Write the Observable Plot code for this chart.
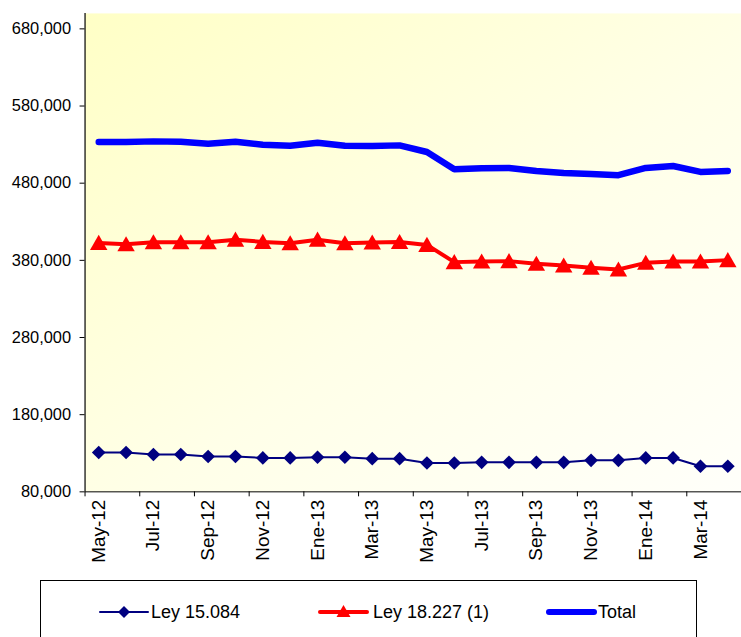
<!DOCTYPE html>
<html><head><meta charset="utf-8">
<script src="https://cdn.jsdelivr.net/npm/d3@7"></script>
<script src="https://cdn.jsdelivr.net/npm/@observablehq/plot@0.6"></script>
<style>
html,body{margin:0;padding:0;background:#fff;overflow:hidden;width:741px;height:637px;}
#chart{position:absolute;left:0;top:0;}
#legend{position:absolute;left:40px;top:580px;width:657px;height:90px;border:1px solid #000;box-sizing:border-box;font-family:"Liberation Sans",Arial,sans-serif;font-size:18px;color:#000;background:#fff;}
.sw{position:absolute;top:20px;}
.lt{position:absolute;top:20px;line-height:22px;white-space:nowrap;}
</style></head><body>
<div id="chart"></div>
<div id="legend"></div>
<script>
const months = ["May-12","Jun-12","Jul-12","Ago-12","Sep-12","Oct-12","Nov-12","Dic-12",
  "Ene-13","Feb-13","Mar-13","Abr-13","May-13","Jun-13","Jul-13","Ago-13","Sep-13","Oct-13",
  "Nov-13","Dic-13","Ene-14","Feb-14","Mar-14","Abr-14"];
const ley15084 = [131000,131000,128400,128400,125800,125800,123900,123900,124800,124800,123000,123000,
  117400,117400,118300,118300,118300,118300,120900,120900,123900,123900,113200,113200];
const ley18227 = [402600,400900,403500,403500,403500,406800,403900,402200,406800,402200,403000,403800,
  400000,377700,378400,379000,375500,373300,370300,368100,376800,378400,378400,380300];
const total = [533300,533300,534200,533800,531200,533800,529900,528600,532500,528600,528100,529000,
  520400,498100,499300,499700,495900,493300,492000,490300,499700,502300,494600,495900];
const yTicks = [80000,180000,280000,380000,480000,580000,680000];
const seriesNames = ["Ley 15.084","Ley 18.227 (1)","Total"];

const data = months.map((m, i) => ({i, m, a: ley15084[i], b: ley18227[i], t: total[i]}));
const boundaries = d3.range(-0.5, 24, 2);
const labelIdx = d3.range(0, 24, 2);
const font = "'Liberation Sans', Arial, sans-serif";

const chart = Plot.plot({
  width: 745, height: 578,
  marginLeft: 85, marginRight: 0, marginTop: 13, marginBottom: 84,
  style: {fontFamily: font, background: "transparent", color: "#000"},
  x: {type: "linear", domain: [-0.5, 23.5], label: null},
  y: {type: "linear", domain: [80000, 700000], label: null},
  marks: [
    Plot.frame({fill: "url(#plotbg)", stroke: null}),
    Plot.axisY({ticks: yTicks, tickFormat: d3.format(","), tickSize: 5, tickPadding: 9, fontSize: 16.5, stroke: "#000", label: null}),
    Plot.axisX({ticks: boundaries, tickFormat: () => "", tickSize: 5, stroke: "#000", label: null}),
    Plot.axisX({ticks: labelIdx, tickFormat: i => months[i], tickSize: 0, tickPadding: 8, tickRotate: -90, fontSize: 19, label: null}),
    Plot.ruleX([-0.5], {stroke: "#000", strokeWidth: 1.2}),
    Plot.ruleY([80000], {stroke: "#000", strokeWidth: 1}),
    Plot.line(data, {x: "i", y: "t", stroke: "#0000FF", strokeWidth: 6.5, strokeLinejoin: "round"}),
    Plot.line(data, {x: "i", y: "b", stroke: "#FF0000", strokeWidth: 4, strokeLinejoin: "round"}),
    Plot.dot(data, {x: "i", y: "b", symbol: "triangle", r: 6.5, fill: "#FF0000", stroke: null, dy: 2}),
    Plot.line(data, {x: "i", y: "a", stroke: "#000080", strokeWidth: 2}),
    Plot.dot(data, {x: "i", y: "a", symbol: "diamond2", r: 6.2, fill: "#000080", stroke: null})
  ]
});
const ns = "http://www.w3.org/2000/svg";
const defs = document.createElementNS(ns, "defs");
defs.innerHTML = '<linearGradient id="plotbg" x1="0" y1="0" x2="1" y2="1">' +
  '<stop offset="0" stop-color="#FFFFC6"/><stop offset="0.55" stop-color="#FFFFE8"/><stop offset="1" stop-color="#FFFFFA"/></linearGradient>';
chart.prepend(defs);
document.getElementById("chart").appendChild(chart);

// legend
const lg = document.getElementById("legend");
const items = [
  {name: seriesNames[0], x0: 58, x1: 108, tx: 110, color: "#000080", w: 2, mark: "diamond"},
  {name: seriesNames[1], x0: 277, x1: 328, tx: 332, color: "#FF0000", w: 4, mark: "triangle"},
  {name: seriesNames[2], x0: 505, x1: 556, tx: 557, color: "#0000FF", w: 6, mark: null}
];
items.forEach(it => {
  const w = it.x1 - it.x0;
  const s = document.createElementNS(ns, "svg");
  s.setAttribute("class", "sw");
  s.setAttribute("width", w); s.setAttribute("height", 22);
  s.style.left = it.x0 + "px";
  let inner = `<line x1="${it.w/2}" x2="${w - it.w/2}" y1="11" y2="11" stroke="${it.color}" stroke-width="${it.w}" stroke-linecap="round"/>`;
  const c = w / 2;
  if (it.mark === "diamond") inner += `<path d="M${c},5L${c+6},11L${c},17L${c-6},11Z" fill="${it.color}"/>`;
  if (it.mark === "triangle") inner += `<path d="M${c},4L${c+7},16L${c-7},16Z" fill="${it.color}"/>`;
  s.innerHTML = inner;
  lg.appendChild(s);
  const t = document.createElement("div");
  t.className = "lt"; t.style.left = it.tx + "px"; t.textContent = it.name;
  lg.appendChild(t);
});
</script>
</body></html>
